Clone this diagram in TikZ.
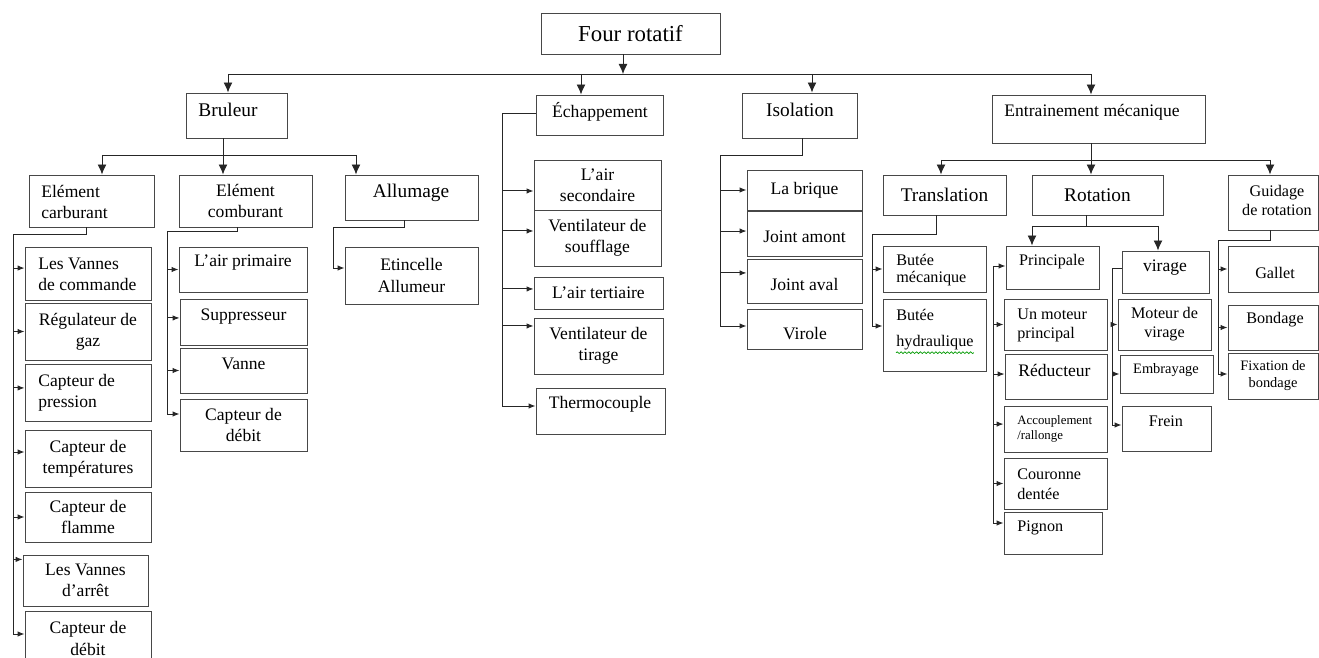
\documentclass[tikz,border=0pt]{standalone}
\usepackage{fontspec}
\setmainfont{Liberation Serif}
\usetikzlibrary{arrows.meta,decorations.pathmorphing}

\tikzset{
  box/.style 2 args={draw=black!72, line width=.55pt, inner sep=0pt, align=center,
    minimum width=#1*0.02cm, minimum height=#2*0.02cm},
  txt/.style={inner sep=0pt, align=center},
  ltxt/.style={inner sep=0pt, align=left, anchor=west},
  f13/.style={font=\fontsize{13}{15.6}\selectfont},
  f11/.style={font=\fontsize{11}{13.2}\selectfont},
  f10/.style={font=\fontsize{10}{12}\selectfont},
  f9/.style={font=\fontsize{9.2}{10.8}\selectfont},
  f8/.style={font=\fontsize{8.2}{9.7}\selectfont},
  f7/.style={font=\fontsize{7.3}{8.5}\selectfont},
  link/.style={line width=.55pt, black!85},
  dn/.style={link, -{Latex[length=2mm,width=1.8mm]}},
  sm/.style={link, -{Latex[length=1.4mm,width=1.1mm]}},
}

\begin{document}
\begin{tikzpicture}[x=0.02cm, y=-0.02cm]
\useasboundingbox (0,0) rectangle (1319,658);
\clip (0,0) rectangle (1319,658);

% top level
\node[box={179}{41},f13] (four) at (630.5,33.5) {Four rotatif};
\node[box={101}{45}] (bru) at (236.5,115.5) {};
\node[txt,f11] (bru-t) at (228,110) {Bruleur};
\node[box={127}{40}] (ech) at (599.5,115) {};
\node[txt,f10] (ech-t) at (600,112) {Échappement};
\node[box={115}{45}] (iso) at (799.5,115.5) {};
\node[txt,f11] (iso-t) at (800,110) {Isolation};
\node[box={213}{48}] (ent) at (1098.5,119) {};
\node[txt,f10] (ent-t) at (1092,112) {Entrainement mécanique};

\coordinate (bus) at (623,74);
\coordinate (bus-a) at (228,74);
\coordinate (bus-b) at (581,74);
\coordinate (bus-c) at (812,74);
\coordinate (bus-d) at (1091,74);
\draw[dn] (four.south -| bus) -- (bus);
\draw[link] (bus-a) -- (bus-d);
\draw[dn] (bus-a) -- (bus-a |- bru.north);
\draw[dn] (bus-b) -- (bus-b |- ech.north);
\draw[dn] (bus-c) -- (bus-c |- iso.north);
\draw[dn] (bus-d) -- (bus-d |- ent.north);

% Bruleur
\node[box={125}{52}] (carb) at (91.5,201) {};
\node[ltxt,f10] (carb-t) at (41,202) {Elément\\carburant};
\node[box={133}{52},f10] (comb) at (245.5,201) {Elément\\comburant};
\node[box={133}{45}] (allu) at (411.5,197.5) {};
\node[txt,f11] (allu-t) at (411,193) {Allumage};

\coordinate (b1) at (102,155);
\coordinate (b2) at (223,155);
\coordinate (b3) at (356,155);
\draw[link] (bru.south -| b2) -- (b2);
\draw[link] (b1) -- (b3);
\draw[dn] (b1) -- (b1 |- carb.north);
\draw[dn] (b2) -- (b2 |- comb.north);
\draw[dn] (b3) -- (b3 |- allu.north);

\node[box={126}{53}] (vdc) at (88,273.5) {};
\node[ltxt,f10] (vdc-t) at (38,274.5) {Les Vannes\\de commande};
\node[box={126}{57},f10] (reg) at (88,331.5) {Régulateur de\\gaz};
\node[box={126}{57}] (pres) at (88,392.5) {};
\node[ltxt,f10] (pres-t) at (38,392.5) {Capteur de\\pression};
\node[box={126}{57},f10] (temp) at (88,458.5) {Capteur de\\températures};
\node[box={126}{50},f10] (flam) at (88,517) {Capteur de\\flamme};
\node[box={125}{51},f10] (arr) at (85.5,580.5) {Les Vannes\\d’arrêt};
\node[box={126}{55},f10] (deb1) at (88,638.5) {Capteur de\\débit};

\coordinate (k0) at (86,234);
\coordinate (k1) at (13,234);
\coordinate (k2) at (13,634);
\draw[link] (carb.south -| k0) -- (k0) -- (k1) -- (k2);
\draw[sm] ([yshift=3.1pt]vdc.west -| k1) -- ([yshift=3.1pt]vdc.west);
\draw[sm] (reg.west -| k1) -- (reg.west);
\draw[sm] ([yshift=2.6pt]pres.west -| k1) -- ([yshift=2.6pt]pres.west);
\draw[sm] ([yshift=3.7pt]temp.west -| k1) -- ([yshift=3.7pt]temp.west);
\draw[sm] (flam.west -| k1) -- (flam.west);
\draw[sm] ([yshift=12pt]arr.west -| k1) -- ([yshift=12pt]arr.west);
\draw[sm] (k2) -- (k2 -| deb1.west);

\node[box={128}{45}] (apr) at (243,269.5) {};
\node[txt,f10] (apr-t) at (243,263) {L’air primaire};
\node[box={127}{46}] (sup) at (243.5,322) {};
\node[txt,f10] (sup-t) at (243.5,317) {Suppresseur};
\node[box={127}{45}] (van) at (243.5,370.5) {};
\node[txt,f10] (van-t) at (243.5,364) {Vanne};
\node[box={127}{52},f10] (deb2) at (243.5,425) {Capteur de\\débit};

\coordinate (c0) at (237,231);
\coordinate (c1) at (167,231);
\coordinate (c2) at (167,414);
\draw[link] (comb.south -| c0) -- (c0) -- (c1) -- (c2);
\draw[sm] (apr.west -| c1) -- (apr.west);
\draw[sm] ([yshift=2.3pt]sup.west -| c1) -- ([yshift=2.3pt]sup.west);
\draw[sm] (van.west -| c1) -- (van.west);
\draw[sm] (c2) -- (c2 -| deb2.west);

\node[box={133}{57},f10] (etin) at (411.5,275.5) {Etincelle\\Allumeur};
\coordinate (a0) at (404,227);
\coordinate (a1) at (333,227);
\coordinate (a2) at (333,268);
\draw[link] (allu.south -| a0) -- (a0) -- (a1) -- (a2);
\draw[sm] (a2) -- (a2 -| etin.west);

% Echappement
\node[box={127}{50},f10] (sec) at (597.5,185) {L’air\\secondaire};
\node[box={127}{56},f10] (souf) at (597.5,238) {Ventilateur de\\soufflage};
\node[box={129}{32},f10] (ter) at (598.5,293) {L’air tertiaire};
\node[box={129}{56},f10] (tir) at (598.5,346) {Ventilateur de\\tirage};
\node[box={129}{46}] (the) at (600.5,411) {};
\node[txt,f10] (the-t) at (600,404) {Thermocouple};

\coordinate (e0) at (502,113);
\coordinate (e1) at (502,406);
\draw[link] (e0 -| ech.west) -- (e0) -- (e1);
\draw[sm] ([yshift=-3.4pt]sec.west -| e0) -- ([yshift=-3.4pt]sec.west);
\draw[sm] ([yshift=4pt]souf.west -| e0) -- ([yshift=4pt]souf.west);
\draw[sm] ([yshift=2.3pt]ter.west -| e0) -- ([yshift=2.3pt]ter.west);
\draw[sm] ([yshift=11.4pt]tir.west -| e0) -- ([yshift=11.4pt]tir.west);
\draw[sm] (e1) -- (e1 -| the.west);

% Isolation
\node[box={115}{40},f10] (bri) at (804.5,190) {La brique};
\node[box={115}{45}] (jam) at (804.5,233.5) {};
\node[txt,f10] (jam-t) at (804.5,237) {Joint amont};
\node[box={115}{44}] (jav) at (804.5,281) {};
\node[txt,f10] (jav-t) at (804.5,284) {Joint aval};
\node[box={115}{40}] (vrl) at (804.5,329) {};
\node[txt,f10] (vrl-t) at (805,334) {Virole};

\coordinate (i0) at (802,155);
\coordinate (i1) at (720,155);
\coordinate (i2) at (720,326);
\draw[link] (iso.south -| i0) -- (i0) -- (i1) -- (i2);
\draw[sm] (bri.west -| i1) -- (bri.west);
\draw[sm] ([yshift=1.4pt]jam.west -| i1) -- ([yshift=1.4pt]jam.west);
\draw[sm] ([yshift=4.6pt]jav.west -| i1) -- ([yshift=4.6pt]jav.west);
\draw[sm] (i2) -- (i2 -| vrl.west);

% Entrainement mecanique
\node[box={123}{40},f11] (tra) at (944.5,195) {Translation};
\node[box={131}{40},f11] (rot) at (1097.5,195) {Rotation};
\node[box={90}{55}] (gui) at (1273,202.5) {};
\node[txt,f9] (gui-t) at (1277,200) {Guidage\\de rotation};

\coordinate (m1) at (941,160);
\coordinate (m2) at (1091,160);
\coordinate (m3) at (1270,160);
\draw[link] (ent.south -| m2) -- (m2);
\draw[link] (m1) -- (m3);
\draw[dn] (m1) -- (m1 |- tra.north);
\draw[dn] (m2) -- (m2 |- rot.north);
\draw[dn] (m3) -- (m3 |- gui.north);

\node[box={103}{46}] (bmec) at (934.5,269) {};
\node[ltxt,font=\fontsize{9.2}{9.7}\selectfont] (bmec-t) at (896,270.5) {Butée\\mécanique};
\node[box={103}{72}] (bhyd) at (934.5,335) {};
\node[ltxt,f9] (bhyd-t) at (896,329.5) {Butée\\[4.4pt]hydraulique};
\draw[green!60!black, line width=.4pt, decorate, decoration={snake, amplitude=.5pt, segment length=2.2pt}]
  ([yshift=-1.2pt]bhyd-t.south west) -- ([yshift=-1.2pt]bhyd-t.south east);

\coordinate (t0) at (936,234);
\coordinate (t1) at (872,234);
\coordinate (t2) at (872,326);
\draw[link] (tra.south -| t0) -- (t0) -- (t1) -- (t2);
\draw[sm] (bmec.west -| t1) -- (bmec.west);
\draw[sm] (t2) -- (t2 -| bhyd.west);

\node[box={93}{43}] (princ) at (1052.5,267.5) {};
\node[txt,f9] (princ-t) at (1052,262) {Principale};
\node[box={103}{51}] (mot) at (1055.5,324.5) {};
\node[ltxt,f9] (mot-t) at (1017,325.5) {Un moteur\\principal};
\node[box={102}{45}] (red) at (1056,376.5) {};
\node[ltxt,f10] (red-t) at (1018,370) {Réducteur};
\node[box={103}{46}] (acc) at (1055.5,429) {};
\node[ltxt,f7] (acc-t) at (1017,428.5) {Accouplement\\/rallonge};
\node[box={103}{51}] (cou) at (1055.5,483.5) {};
\node[ltxt,font=\fontsize{9.2}{11.4}\selectfont] (cou-t) at (1017,484) {Couronne\\dentée};
\node[box={98}{42}] (pig) at (1053,533) {};
\node[ltxt,f9] (pig-t) at (1017,528) {Pignon};

\node[box={87}{42}] (virg) at (1165.5,272) {};
\node[txt,f10] (virg-t) at (1165,268) {virage};
\node[box={93}{51},f9] (mvir) at (1164.5,324.5) {Moteur de\\virage};
\node[box={93}{38}] (emb) at (1166.5,374) {};
\node[txt,f8] (emb-t) at (1166,370) {Embrayage};
\node[box={89}{45}] (fre) at (1166.5,428.5) {};
\node[txt,f9] (fre-t) at (1166,421) {Frein};

\coordinate (r0) at (1086,226);
\coordinate (r1) at (1032,226);
\coordinate (r2) at (1158,226);
\draw[link] (rot.south -| r0) -- (r0);
\draw[link] (r1) -- (r2);
\draw[dn] (r1) -- (r1 |- princ.north);
\draw[dn] (r2) -- (r2 |- virg.north);

\coordinate (p0) at (993,266);
\coordinate (p1) at (993,523);
\draw[link] (p0) -- (p1);
\draw[sm] (p0) -- (p0 -| princ.west);
\draw[sm] (mot.west -| p0) -- (mot.west);
\draw[sm] ([yshift=1.4pt]red.west -| p0) -- ([yshift=1.4pt]red.west);
\draw[sm] ([yshift=2.8pt]acc.west -| p0) -- ([yshift=2.8pt]acc.west);
\draw[sm] (cou.west -| p0) -- (cou.west);
\draw[sm] (p1) -- (p1 -| pig.west);

\coordinate (v0) at (1112,268);
\coordinate (v1) at (1112,425);
\draw[link] (v0 -| virg.west) -- (v0) -- (v1);
\draw[sm] (mvir.west -| v0) -- (mvir.west);
\draw[sm] (emb.west -| v0) -- (emb.west);
\draw[sm] (v1) -- (v1 -| fre.west);

\node[box={90}{46}] (gal) at (1273,269) {};
\node[txt,f9] (gal-t) at (1275,273) {Gallet};
\node[box={90}{45}] (bon) at (1273,327.5) {};
\node[txt,f9] (bon-t) at (1275,320) {Bondage};
\node[box={90}{46},f8] (fix) at (1273,376) {Fixation de\\bondage};

\coordinate (g0) at (1270,240);
\coordinate (g1) at (1218,240);
\coordinate (g2) at (1218,374);
\draw[link] (gui.south -| g0) -- (g0) -- (g1) -- (g2);
\draw[sm] (gal.west -| g1) -- (gal.west);
\draw[sm] (bon.west -| g1) -- (bon.west);
\draw[sm] (g2) -- (g2 -| fix.west);

\end{tikzpicture}
\end{document}
